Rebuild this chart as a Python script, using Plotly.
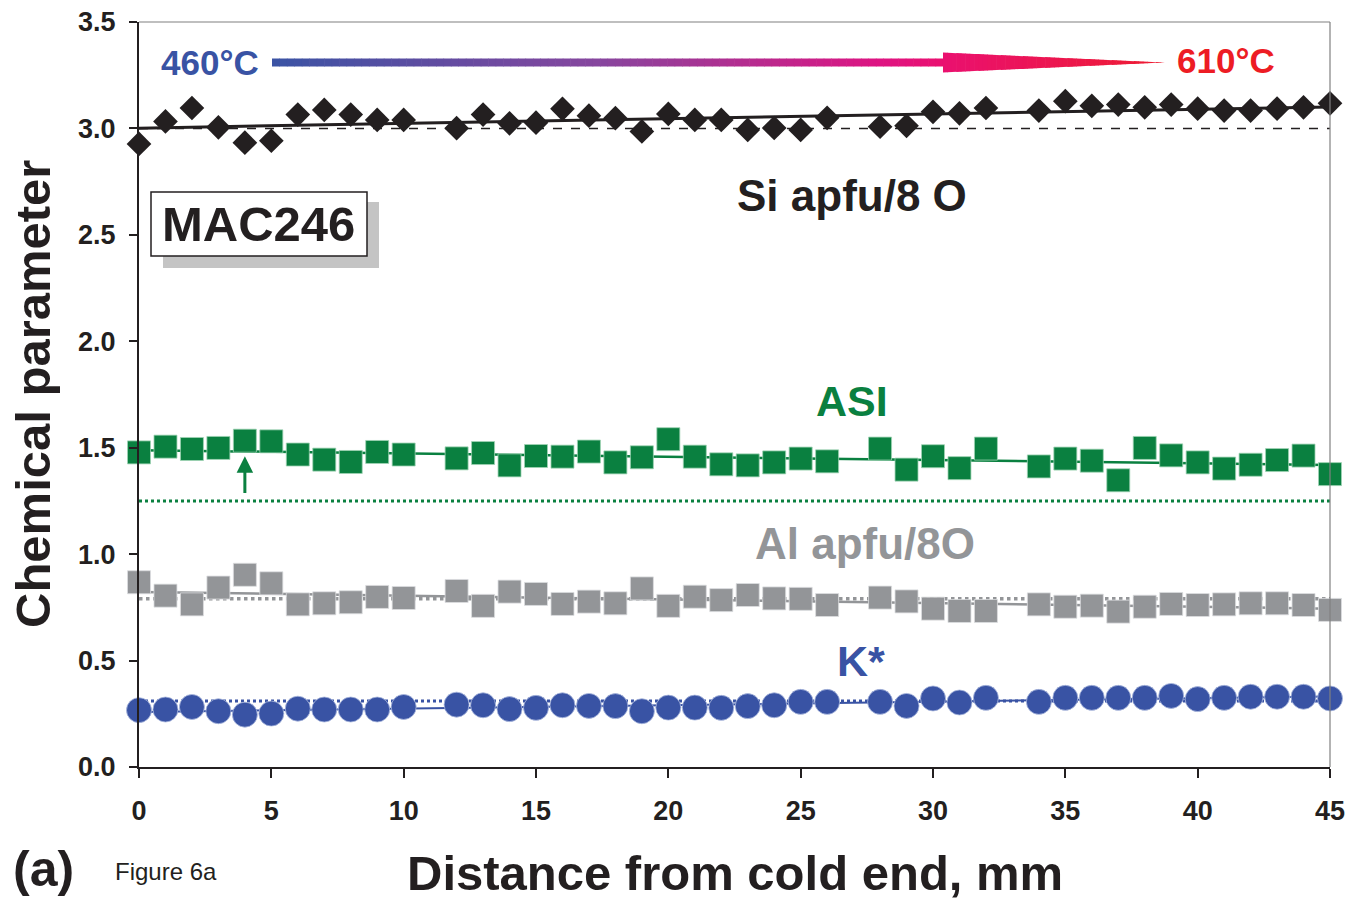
import numpy as np
import plotly.graph_objects as go

# Distance along the charge (mm); 11, 27 and 33 mm were not analysed
distance = [0, 1, 2, 3, 4, 5, 6, 7, 8, 9, 10,
            12, 13, 14, 15, 16, 17, 18, 19, 20, 21, 22, 23, 24, 25, 26,
            28, 29, 30, 31, 32,
            34, 35, 36, 37, 38, 39, 40, 41, 42, 43, 44, 45]

si_apfu = [2.927, 3.033, 3.096, 3.005, 2.933, 2.942, 3.065, 3.087, 3.065, 3.040, 3.040,
           3.001, 3.065, 3.024, 3.027, 3.092, 3.060, 3.048, 2.986, 3.068, 3.040, 3.040,
           2.993, 3.002, 2.993, 3.050,
           3.008, 3.012, 3.078, 3.071, 3.096,
           3.084, 3.128, 3.106, 3.112, 3.099, 3.112, 3.093, 3.084, 3.084, 3.093, 3.099, 3.118]

asi = [1.478, 1.505, 1.494, 1.499, 1.533, 1.530, 1.468, 1.444, 1.433, 1.480, 1.468,
       1.450, 1.475, 1.417, 1.461, 1.458, 1.482, 1.431, 1.455, 1.540, 1.458, 1.422,
       1.417, 1.431, 1.449, 1.436,
       1.496, 1.397, 1.460, 1.404, 1.496,
       1.412, 1.449, 1.439, 1.347, 1.499, 1.464, 1.431, 1.402, 1.420, 1.442, 1.463, 1.376]

al_apfu = [0.868, 0.805, 0.764, 0.843, 0.903, 0.863, 0.764, 0.769, 0.774, 0.799, 0.794,
           0.827, 0.757, 0.824, 0.813, 0.766, 0.777, 0.769, 0.839, 0.757, 0.800, 0.784,
           0.808, 0.792, 0.790, 0.761,
           0.796, 0.778, 0.744, 0.733, 0.733,
           0.764, 0.753, 0.758, 0.730, 0.753, 0.766, 0.761, 0.764, 0.769, 0.769, 0.761, 0.738]

k_star = [0.267, 0.270, 0.282, 0.262, 0.246, 0.251, 0.274, 0.270, 0.270, 0.270, 0.282,
          0.293, 0.290, 0.272, 0.278, 0.290, 0.287, 0.286, 0.262, 0.279, 0.279, 0.278,
          0.286, 0.290, 0.306, 0.306,
          0.306, 0.287, 0.322, 0.303, 0.325,
          0.306, 0.325, 0.325, 0.325, 0.325, 0.334, 0.319, 0.325, 0.330, 0.330, 0.330, 0.322]

# starting-material values
si_start = 3.00
asi_start = 1.25
al_start = 0.79
k_start = 0.31

x_ticks = [0, 5, 10, 15, 20, 25, 30, 35, 40, 45]
y_ticks = [0.0, 0.5, 1.0, 1.5, 2.0, 2.5, 3.0, 3.5]

BLACK = "#231f20"
GREEN = "#0a8040"
GREY = "#939598"
BLUE = "#3953a4"
RED = "#ed1c24"
FONT = "Liberation Sans, Arial, Helvetica, sans-serif"

W, H = 1364, 901
L, R, T, B = 139, 1330, 22, 767   # plot area in pixels


def pp(px, py):
    """pixel position -> paper coordinates"""
    return (px - L) / (R - L), (B - py) / (B - T)


fig = go.Figure()
xline = [0, 45]

series = [
    (si_apfu, si_start, BLACK, "diamond", 19, "dash", 1.5, 3.0, BLACK),
    (asi, asi_start, GREEN, "square", 23, "dot", 3.0, 2.5, "#9fd3b4"),
    (al_apfu, al_start, GREY, "square", 23, "dot", 3.5, 2.5, "#dcdddf"),
    (k_star, k_start, BLUE, "circle", 25, "dot", 3.0, 2.0, "#aab8dd"),
]

for vals, start, col, sym, size, dash, dw, tw, edge in series:
    # starting composition
    fig.add_trace(go.Scatter(x=xline, y=[start, start], mode="lines",
                             line=dict(color=col, width=dw, dash=dash),
                             hoverinfo="skip", showlegend=False))
    # least-squares trend
    slope, icpt = np.polyfit(distance, vals, 1)
    fig.add_trace(go.Scatter(x=xline, y=[icpt + slope * v for v in xline], mode="lines",
                             line=dict(color=col, width=tw),
                             hoverinfo="skip", showlegend=False))
    fig.add_trace(go.Scatter(x=distance, y=vals, mode="markers", cliponaxis=False,
                             marker=dict(symbol=sym, size=size, color=col,
                                         line=dict(color=edge, width=0.8 if col != BLACK else 0)),
                             showlegend=False))

axis_font = dict(family=FONT, size=27, color=BLACK, weight="bold")
fig.update_xaxes(range=[0, 45], tickvals=x_ticks, ticktext=[str(v) for v in x_ticks],
                 showgrid=False, zeroline=False, showline=True, linecolor=BLACK, linewidth=2,
                 ticks="outside", ticklen=9, tickwidth=2, tickcolor=BLACK, automargin=False,
                 tickfont=axis_font, ticklabelstandoff=10)
fig.update_yaxes(range=[0, 3.5], tickvals=y_ticks, ticktext=[f"{v:.1f}" for v in y_ticks],
                 showgrid=False, zeroline=False, showline=True, linecolor=BLACK, linewidth=2,
                 ticks="outside", ticklen=8, tickwidth=2, tickcolor=BLACK, automargin=False,
                 tickfont=axis_font, ticklabelstandoff=8)

shapes = []
# grey frame on top and right
shapes.append(dict(type="line", xref="paper", yref="paper", x0=0, x1=1, y0=1, y1=1,
                   line=dict(color="#808080", width=1.2)))
shapes.append(dict(type="line", xref="paper", yref="paper", x0=1, x1=1, y0=0, y1=1,
                   line=dict(color="#808080", width=1.2)))

# temperature gradient arrow (blue -> magenta -> red)
stops = [(272, (58, 83, 164)), (600, (135, 70, 158)), (880, (222, 20, 130)),
         (943, (234, 16, 112)), (1165, (238, 28, 48))]


def grad(px):
    for (a, ca), (b, cb) in zip(stops[:-1], stops[1:]):
        if px <= b:
            f = (px - a) / (b - a)
            return "rgb(%d,%d,%d)" % tuple(round(ca[i] + f * (cb[i] - ca[i])) for i in range(3))
    return "rgb(%d,%d,%d)" % stops[-1][1]


x_start, x_head, x_tip = 272, 943, 1165
y_mid, shaft_half, head_half = 62.5, 4.0, 10.0
n_shaft = 90
for i in range(n_shaft):
    a = x_start + (x_head - x_start) * i / n_shaft
    b = x_start + (x_head - x_start) * (i + 1) / n_shaft + 0.6
    x0, y0 = pp(a, y_mid + shaft_half)
    x1, y1 = pp(b, y_mid - shaft_half)
    shapes.append(dict(type="rect", xref="paper", yref="paper", x0=x0, x1=x1, y0=y0, y1=y1,
                       fillcolor=grad((a + b) / 2), line=dict(width=0), layer="above"))
n_head = 50
for i in range(n_head):
    a = x_head + (x_tip - x_head) * i / n_head
    b = min(x_head + (x_tip - x_head) * (i + 1) / n_head + 0.6, x_tip)
    ha = head_half * (x_tip - a) / (x_tip - x_head)
    hb = head_half * max(x_tip - b, 0) / (x_tip - x_head)
    pts = [pp(a, y_mid - ha), pp(b, y_mid - hb), pp(b, y_mid + hb), pp(a, y_mid + ha)]
    path = "M " + " L ".join(f"{px:.5f},{py:.5f}" for px, py in pts) + " Z"
    shapes.append(dict(type="path", xref="paper", yref="paper", path=path,
                       fillcolor=grad((a + b) / 2), line=dict(width=0), layer="above"))

# sample label box with shadow
sx0, sy0 = pp(163, 202)
sx1, sy1 = pp(379, 268)
shapes.append(dict(type="rect", xref="paper", yref="paper", x0=sx0, x1=sx1, y0=sy0, y1=sy1,
                   fillcolor="#c4c4c4", line=dict(width=0), layer="above"))
bx0, by0 = pp(151, 192)
bx1, by1 = pp(367, 256)
shapes.append(dict(type="rect", xref="paper", yref="paper", x0=bx0, x1=bx1, y0=by0, y1=by1,
                   fillcolor="white", line=dict(color=BLACK, width=1.5), layer="above"))

annotations = []


def label(text, px, py, size, color, bold=True, xanchor="center", angle=0):
    x, y = pp(px, py)
    annotations.append(dict(text=text, x=x, y=y, xref="paper", yref="paper",
                            xanchor=xanchor, yanchor="middle", showarrow=False,
                            textangle=angle,
                            font=dict(family=FONT, size=size, color=color,
                                      weight="bold" if bold else "normal")))


label("460°C", 210, 62, 35, BLUE)
label("610°C", 1226, 61, 35, RED)
label("Si apfu/8 O", 852, 195, 44, BLACK)
label("ASI", 852, 401, 43, GREEN)
label("Al apfu/8O", 865, 543, 44, GREY)
label("K*", 861, 661, 43, BLUE)
label("MAC246", 258, 224, 49, BLACK)
label("(a)", 43, 869, 50, BLACK)
label("Figure 6a", 113, 871, 24, BLACK, bold=False, xanchor="left")
label("Distance from cold end, mm", (L + R) / 2, 873, 49, BLACK)
label("Chemical parameter", 33, 394, 49, BLACK, angle=-90)

# arrow marking the first ASI point above the starting value
annotations.append(dict(x=4, y=1.46, ax=4, ay=1.28, xref="x", yref="y", axref="x", ayref="y",
                        showarrow=True, arrowhead=2, arrowsize=1.1, arrowwidth=3,
                        arrowcolor=GREEN, text=""))

fig.update_layout(width=W, height=H, autosize=False,
                  margin=dict(l=L, r=W - R, t=T, b=H - B, pad=0, autoexpand=False),
                  plot_bgcolor="white", paper_bgcolor="white",
                  shapes=shapes, annotations=annotations, showlegend=False,
                  font=dict(family=FONT, color=BLACK))

fig.write_html("out.html")
